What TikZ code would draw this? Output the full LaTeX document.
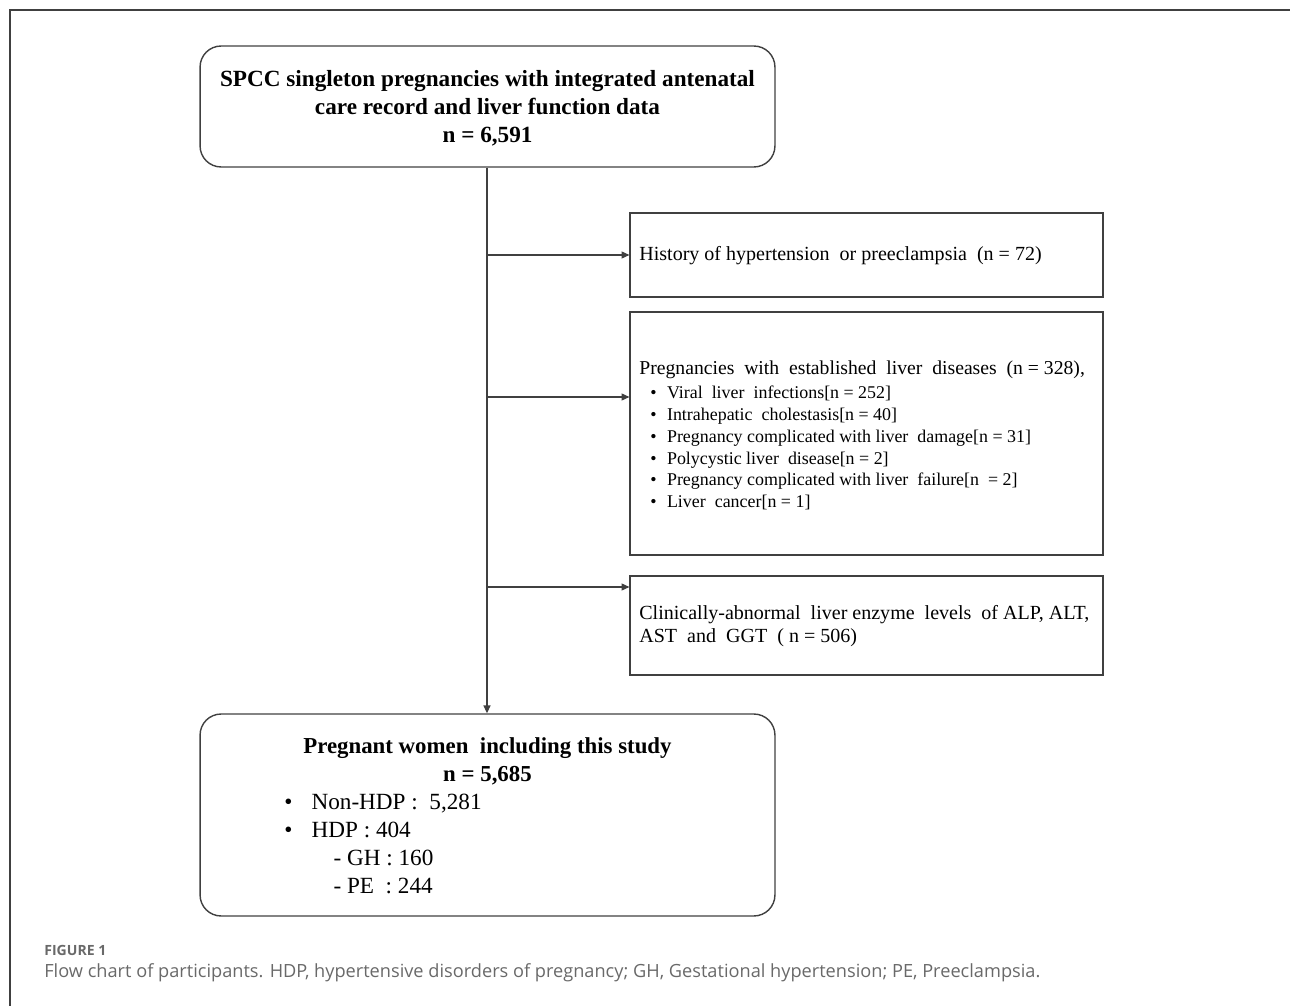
\documentclass[tikz,border=0pt]{standalone}
\usepackage{fontspec}
\setmainfont{Liberation Serif}
\newfontfamily\capfont{Open Sans}
\usetikzlibrary{arrows.meta, positioning, calc}
\definecolor{linecolor}{RGB}{64,64,64}
\definecolor{captioncolor}{RGB}{105,105,105}
\newcommand{\bul}[1]{\makebox[#1][l]{\textbullet}}

\begin{document}
\begin{tikzpicture}[
    x=0.02cm, y=-0.02cm,
    roundbox/.style={draw=linecolor, line width=0.8pt, rounded corners=12pt, minimum width=11.5cm},
    sidebox/.style={draw=linecolor, line width=0.7pt, minimum width=9.46cm},
    boldtext/.style={font=\bfseries\fontsize{13.2}{15.9}\selectfont, align=center, inner sep=0pt},
    plaintext/.style={font=\fontsize{11.4}{13}\selectfont, align=left, inner sep=0pt, anchor=west},
    relation/.style={-{Triangle[length=4.5pt, width=4pt]}, line width=0.7pt, draw=linecolor}
]
    \useasboundingbox (0,0) rectangle (1290,1006);
    % Frame
    \draw[linecolor, line width=1pt] (10,1006) -- (10,10) -- (1290,10);

    % Source cohort
    \node[roundbox, minimum height=2.42cm] (cohort) at (487.5,106.5) {};
    \node[boldtext] (cohorttext) at (487.5,108) {SPCC singleton pregnancies with integrated antenatal\\care record and liver function data\\n = 6,591};

    % Exclusions
    \node[sidebox, minimum height=1.68cm] (hyper) at (866.5,255) {};
    \node[plaintext] (hypertext) at (639,256) {History of hypertension\ \ or preeclampsia\ \ (n = 72)};

    \node[sidebox, minimum height=4.86cm] (liver) at (866.5,433.5) {};
    \node[plaintext, font=\fontsize{11.2}{13}\selectfont] (livertext) at (639,370) {Pregnancies\ \ with\ \ established\ \ liver\ \ diseases\ \ (n = 328),};
    \node[plaintext, font=\fontsize{10.2}{12.47}\selectfont] (liverlist) at (650,448) {%
        \bul{9.5pt}Viral\ \ liver\ \ infections[n = 252]\\
        \bul{9.5pt}Intrahepatic\ \ cholestasis[n = 40]\\
        \bul{9.5pt}Pregnancy complicated with liver\ \ damage[n = 31]\\
        \bul{9.5pt}Polycystic liver\ \ disease[n = 2]\\
        \bul{9.5pt}Pregnancy complicated with liver\ \ failure[n\ \ = 2]\\
        \bul{9.5pt}Liver\ \ cancer[n = 1]};

    \node[sidebox, minimum height=1.98cm] (enzyme) at (866.5,625.5) {};
    \node[plaintext] (enzymetext) at (639,626) {Clinically-abnormal\ \ liver enzyme\ \ levels\ \ of ALP, ALT,\\AST\ \ and\ \ GGT\ \ ( n = 506)};

    % Final cohort
    \node[roundbox, minimum height=4.04cm] (study) at (487.5,815) {};
    \node[boldtext, font=\bfseries\fontsize{13}{15.9}\selectfont] (studytext) at (487.5,761) {Pregnant women\ \ including this study\\n = 5,685};
    \node[plaintext, font=\fontsize{13.2}{15.8}\selectfont] (studylist) at (284,844) {%
        \bul{15.5pt}Non-HDP :\ \ 5,281\\
        \bul{15.5pt}HDP : 404\\
        \hspace{28pt}- GH : 160\\
        \hspace{28pt}- PE\ \ : 244};

    % Flow
    \coordinate (b1) at (487,255);
    \coordinate (b2) at (487,397);
    \coordinate (b3) at (487,587);
    \draw[relation] (cohort.south -| b1) -- (study.north -| b1);
    \draw[relation] (b1) -- (b1 -| hyper.west);
    \draw[relation] (b2) -- (b2 -| liver.west);
    \draw[relation] (b3) -- (b3 -| enzyme.west);

    % Caption
    \node[font=\capfont\bfseries\fontsize{8}{9}\selectfont, text=captioncolor, anchor=west, inner sep=0pt] (figlabel) at (44,950) {FIGURE 1};
    \node[font=\capfont\fontsize{10.35}{12}\selectfont, text=captioncolor, anchor=west, inner sep=0pt] (caption) at (44,973) {Flow chart of participants. HDP, hypertensive disorders of pregnancy; GH, Gestational hypertension; PE, Preeclampsia.};
\end{tikzpicture}
\end{document}
